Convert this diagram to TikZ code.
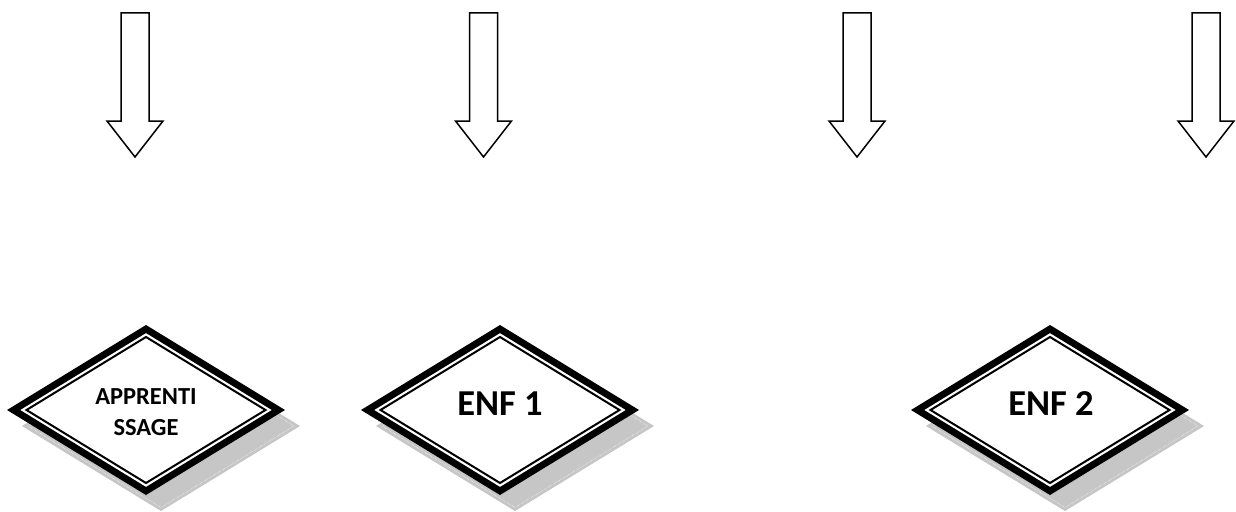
\documentclass[tikz,border=0pt]{standalone}
\usepackage{fontspec}
\setmainfont{Carlito}
\definecolor{shadowgray}{RGB}{198,198,198}
\tikzset{
  blockarrow/.style={draw=black,fill=white,line width=1.5pt,line join=miter},
  diamondtext/.style={inner sep=0pt,font=\bfseries,align=center}
}
\begin{document}
\begin{tikzpicture}[x=1pt,y=-1pt]
\useasboundingbox[fill=white] (0,0) rectangle (1236,511);
% block arrows
\foreach \ax in {135,483.5,857,1206}{
  \draw[blockarrow] (\ax-14,13) -- (\ax+14,13) -- (\ax+14,121) -- (\ax+28,121)
    -- (\ax,157) -- (\ax-28,121) -- (\ax-14,121) -- cycle;
}
% diamonds
\foreach \cx in {146,500,1050}{
  \begin{scope}[shift={(\cx,410)}]
    \fill[shadowgray] (-124,16) -- (15,-69) -- (154,16) -- (15,101) -- cycle;
    \draw[white,line width=0.5pt,densely dotted] (-118,16) -- (15,-65.5) -- (148,16) -- (15,97.5) -- cycle;
    \fill[black] (-139,0) -- (0,-85) -- (139,0) -- (0,85) -- cycle;
    \fill[white] (-125.6,0) -- (0,-76.8) -- (125.6,0) -- (0,76.8) -- cycle;
    \draw[black,line width=2pt,line join=miter] (-119.5,0) -- (0,-73) -- (119.5,0) -- (0,73) -- cycle;
  \end{scope}
}
\node[diamondtext,font=\bfseries\fontsize{24.5}{31}\selectfont] (d1) at (146,412) {APPRENTI\\SSAGE};
\node[diamondtext,font=\bfseries\fontsize{36.5}{43}\selectfont] (d2) at (500,404) {ENF 1};
\node[diamondtext,font=\bfseries\fontsize{36.5}{43}\selectfont] (d3) at (1051,404) {ENF 2};
\end{tikzpicture}
\end{document}
